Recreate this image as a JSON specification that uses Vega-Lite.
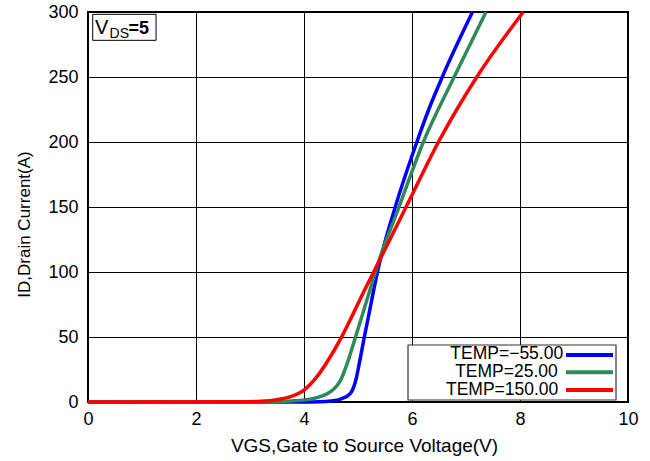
{
  "$schema": "https://vega.github.io/schema/vega-lite/v6.json",
  "width": 540,
  "height": 390,
  "autosize": {"type": "none"},
  "padding": {"left": 88, "top": 12, "right": 22, "bottom": 59},
  "background": "white",
  "config": {
    "font": "Liberation Sans",
    "view": {"stroke": "black", "strokeWidth": 2},
    "axis": {
      "grid": true,
      "gridColor": "black",
      "gridWidth": 1,
      "gridOpacity": 1,
      "domain": false,
      "ticks": false,
      "labelFontSize": 18,
      "labelColor": "black",
      "labelFont": "Liberation Sans",
      "titleColor": "black",
      "titleFont": "Liberation Sans",
      "titleFontWeight": "normal"
    }
  },
  "layer": [
    {
      "data": {
        "values": [
          {"temp": "TEMP=−55.00", "vgs": 0, "id": 0},
          {"temp": "TEMP=−55.00", "vgs": 4.0, "id": 0},
          {"temp": "TEMP=−55.00", "vgs": 4.3, "id": 0.2},
          {"temp": "TEMP=−55.00", "vgs": 4.5, "id": 0.8},
          {"temp": "TEMP=−55.00", "vgs": 4.68, "id": 2.3},
          {"temp": "TEMP=−55.00", "vgs": 4.86, "id": 6.7},
          {"temp": "TEMP=−55.00", "vgs": 4.96, "id": 16.9},
          {"temp": "TEMP=−55.00", "vgs": 5.03, "id": 31},
          {"temp": "TEMP=−55.00", "vgs": 5.115, "id": 49.5},
          {"temp": "TEMP=−55.00", "vgs": 5.20, "id": 67},
          {"temp": "TEMP=−55.00", "vgs": 5.29, "id": 86},
          {"temp": "TEMP=−55.00", "vgs": 5.36, "id": 100},
          {"temp": "TEMP=−55.00", "vgs": 5.69, "id": 150},
          {"temp": "TEMP=−55.00", "vgs": 6.09, "id": 200},
          {"temp": "TEMP=−55.00", "vgs": 6.31, "id": 225},
          {"temp": "TEMP=−55.00", "vgs": 6.56, "id": 250},
          {"temp": "TEMP=−55.00", "vgs": 7.12, "id": 300},
          {"temp": "TEMP=25.00", "vgs": 0, "id": 0},
          {"temp": "TEMP=25.00", "vgs": 3.5, "id": 0.2},
          {"temp": "TEMP=25.00", "vgs": 3.75, "id": 0.7},
          {"temp": "TEMP=25.00", "vgs": 4.18, "id": 2.8},
          {"temp": "TEMP=25.00", "vgs": 4.49, "id": 7.9},
          {"temp": "TEMP=25.00", "vgs": 4.68, "id": 16.9},
          {"temp": "TEMP=25.00", "vgs": 4.80, "id": 29.7},
          {"temp": "TEMP=25.00", "vgs": 4.95, "id": 49.5},
          {"temp": "TEMP=25.00", "vgs": 5.08, "id": 67},
          {"temp": "TEMP=25.00", "vgs": 5.22, "id": 86},
          {"temp": "TEMP=25.00", "vgs": 5.32, "id": 100},
          {"temp": "TEMP=25.00", "vgs": 5.76, "id": 150},
          {"temp": "TEMP=25.00", "vgs": 6.21, "id": 200},
          {"temp": "TEMP=25.00", "vgs": 6.78, "id": 250},
          {"temp": "TEMP=25.00", "vgs": 7.37, "id": 300},
          {"temp": "TEMP=150.00", "vgs": 0, "id": 0},
          {"temp": "TEMP=150.00", "vgs": 2.8, "id": 0.2},
          {"temp": "TEMP=150.00", "vgs": 3.2, "id": 0.6},
          {"temp": "TEMP=150.00", "vgs": 3.5, "id": 1.8},
          {"temp": "TEMP=150.00", "vgs": 3.75, "id": 4.1},
          {"temp": "TEMP=150.00", "vgs": 4.0, "id": 9.2},
          {"temp": "TEMP=150.00", "vgs": 4.24, "id": 19.5},
          {"temp": "TEMP=150.00", "vgs": 4.43, "id": 31},
          {"temp": "TEMP=150.00", "vgs": 4.69, "id": 49.5},
          {"temp": "TEMP=150.00", "vgs": 4.90, "id": 67},
          {"temp": "TEMP=150.00", "vgs": 5.12, "id": 86},
          {"temp": "TEMP=150.00", "vgs": 5.29, "id": 100},
          {"temp": "TEMP=150.00", "vgs": 5.89, "id": 150},
          {"temp": "TEMP=150.00", "vgs": 6.49, "id": 200},
          {"temp": "TEMP=150.00", "vgs": 7.20, "id": 250},
          {"temp": "TEMP=150.00", "vgs": 8.06, "id": 300}
        ]
      },
      "mark": {"type": "line", "strokeWidth": 3.5, "interpolate": "monotone"},
      "encoding": {
        "x": {
          "field": "vgs",
          "type": "quantitative",
          "scale": {"domain": [0, 10], "nice": false},
          "axis": {
            "title": "VGS,Gate to Source Voltage(V)",
            "titleFontSize": 19,
            "titleX": 276,
            "values": [0, 2, 4, 6, 8, 10],
            "labelPadding": 8,
            "titlePadding": 8,
            "labelFlush": false
          }
        },
        "y": {
          "field": "id",
          "type": "quantitative",
          "scale": {"domain": [0, 300], "nice": false},
          "axis": {
            "title": "ID,Drain Current(A)",
            "titleFontSize": 17,
            "titleY": 212,
            "values": [0, 50, 100, 150, 200, 250, 300],
            "labelPadding": 10,
            "titlePadding": 14,
            "labelFlush": false
          }
        },
        "color": {
          "field": "temp",
          "type": "nominal",
          "scale": {
            "domain": ["TEMP=−55.00", "TEMP=25.00", "TEMP=150.00"],
            "range": ["#0000ff", "#2e8b57", "#ff0000"]
          },
          "legend": null
        }
      }
    },
    {
      "data": {"values": [{}]},
      "mark": {"type": "rect", "fill": "white", "stroke": "black", "strokeWidth": 1},
      "encoding": {
        "x": {"datum": 0.087, "type": "quantitative"},
        "x2": {"datum": 1.26},
        "y": {"datum": 298.2, "type": "quantitative"},
        "y2": {"datum": 278.2}
      }
    },
    {
      "data": {"values": [{}]},
      "mark": {"type": "text", "text": "V", "fontSize": 20, "align": "left", "baseline": "alphabetic", "color": "black"},
      "encoding": {
        "x": {"datum": 0.13, "type": "quantitative"},
        "y": {"datum": 283.1, "type": "quantitative"}
      }
    },
    {
      "data": {"values": [{}]},
      "mark": {"type": "text", "text": "DS", "fontSize": 14, "align": "left", "baseline": "alphabetic", "color": "black"},
      "encoding": {
        "x": {"datum": 0.40, "type": "quantitative"},
        "y": {"datum": 280.0, "type": "quantitative"}
      }
    },
    {
      "data": {"values": [{}]},
      "mark": {"type": "text", "text": "=5", "fontSize": 18, "fontWeight": "bold", "align": "left", "baseline": "alphabetic", "color": "black"},
      "encoding": {
        "x": {"datum": 0.75, "type": "quantitative"},
        "y": {"datum": 283.1, "type": "quantitative"}
      }
    },
    {
      "data": {"values": [{}]},
      "mark": {"type": "rect", "fill": "white", "stroke": "#333333", "strokeWidth": 1.2},
      "encoding": {
        "x": {"datum": 5.926, "type": "quantitative"},
        "x2": {"datum": 9.778},
        "y": {"datum": 43.85, "type": "quantitative"},
        "y2": {"datum": 1.54}
      }
    },
    {
      "data": {"values": [{}]},
      "mark": {"type": "text", "text": "TEMP=−55.00", "fontSize": 17.5, "align": "right", "baseline": "middle", "color": "black"},
      "encoding": {
        "x": {"datum": 8.80, "type": "quantitative"},
        "y": {"datum": 36.9, "type": "quantitative"}
      }
    },
    {
      "data": {"values": [{}]},
      "mark": {"type": "text", "text": "TEMP=25.00", "fontSize": 17.5, "align": "right", "baseline": "middle", "color": "black"},
      "encoding": {
        "x": {"datum": 8.70, "type": "quantitative"},
        "y": {"datum": 23.0, "type": "quantitative"}
      }
    },
    {
      "data": {"values": [{}]},
      "mark": {"type": "text", "text": "TEMP=150.00", "fontSize": 17.5, "align": "right", "baseline": "middle", "color": "black"},
      "encoding": {
        "x": {"datum": 8.71, "type": "quantitative"},
        "y": {"datum": 9.0, "type": "quantitative"}
      }
    },
    {
      "data": {"values": [{}]},
      "mark": {"type": "rule", "strokeWidth": 4, "color": "#0000ff"},
      "encoding": {
        "x": {"datum": 8.852, "type": "quantitative"},
        "x2": {"datum": 9.722},
        "y": {"datum": 36.15, "type": "quantitative"}
      }
    },
    {
      "data": {"values": [{}]},
      "mark": {"type": "rule", "strokeWidth": 4, "color": "#2e8b57"},
      "encoding": {
        "x": {"datum": 8.852, "type": "quantitative"},
        "x2": {"datum": 9.722},
        "y": {"datum": 22.85, "type": "quantitative"}
      }
    },
    {
      "data": {"values": [{}]},
      "mark": {"type": "rule", "strokeWidth": 4, "color": "#ff0000"},
      "encoding": {
        "x": {"datum": 8.852, "type": "quantitative"},
        "x2": {"datum": 9.722},
        "y": {"datum": 9.23, "type": "quantitative"}
      }
    }
  ]
}
